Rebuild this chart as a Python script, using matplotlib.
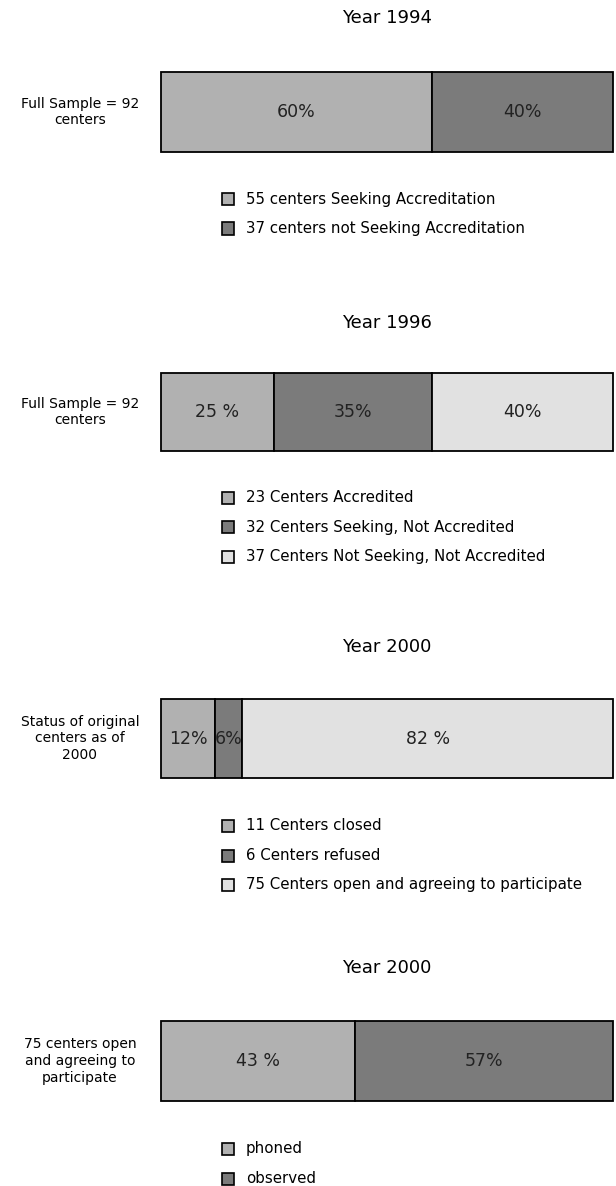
import matplotlib.pyplot as plt
from matplotlib.patches import Rectangle

plt.rcParams['font.family'] = ['DejaVu Sans']

# --- data ---
titles = ["Year 1994", "Year 1996", "Year 2000", "Year 2000"]
row_labels = [
    "Full Sample = 92\ncenters",
    "Full Sample = 92\ncenters",
    "Status of original\ncenters as of\n2000",
    "75 centers open\nand agreeing to\nparticipate",
]
shares_1994 = [60, 40]
shares_1996 = [25, 35, 40]
shares_2000a = [12, 6, 82]
shares_2000b = [43, 57]
text_1994 = ["60%", "40%"]
text_1996 = ["25 %", "35%", "40%"]
text_2000a = ["12%", "6%", "82 %"]
text_2000b = ["43 %", "57%"]
legend_1994 = ["55 centers Seeking Accreditation", "37 centers not Seeking Accreditation"]
legend_1996 = ["23 Centers Accredited", "32 Centers Seeking, Not Accredited",
               "37 Centers Not Seeking, Not Accredited"]
legend_2000a = ["11 Centers closed", "6 Centers refused",
                "75 Centers open and agreeing to participate"]
legend_2000b = ["phoned", "observed"]

panels = [
    (shares_1994, text_1994, legend_1994),
    (shares_1996, text_1996, legend_1996),
    (shares_2000a, text_2000a, legend_2000a),
    (shares_2000b, text_2000b, legend_2000b),
]
colors = ["#b1b1b1", "#7b7b7b", "#e1e1e1"]

W, H = 616, 1186
fig = plt.figure(figsize=(W / 100, H / 100), dpi=100)

bar_top = [72, 373, 699, 1021]
bar_bot = [152, 451, 778, 1101]
title_y = [18, 323, 647, 968]
leg_y = [199, 498, 826, 1149]
x0, x1 = 161, 613

for i, (vals, labels, legs) in enumerate(panels):
    ax = fig.add_axes([x0 / W, 1 - bar_bot[i] / H, (x1 - x0) / W,
                       (bar_bot[i] - bar_top[i]) / H])
    left = 0
    for v, lab, c in zip(vals, labels, colors):
        ax.barh(0, v, left=left, height=1, color=c, edgecolor="black",
                linewidth=1.3, clip_on=False)
        ax.text(left + v / 2, 0, lab, ha="center", va="center", fontsize=12.5,
                color="#222222")
        left += v
    ax.set_xlim(0, sum(vals))
    ax.set_ylim(-0.5, 0.5)
    ax.axis("off")

    fig.text((x0 + x1) / 2 / W, 1 - title_y[i] / H, titles[i], ha="center",
             va="center", fontsize=13)
    fig.text(80 / W, 1 - (bar_top[i] + bar_bot[i]) / 2 / H, row_labels[i],
             ha="center", va="center", fontsize=10, linespacing=1.25)

    for j, (lg, c) in enumerate(zip(legs, colors)):
        yc = leg_y[i] + 29.5 * j
        fig.patches.append(Rectangle((222 / W, 1 - (yc + 6) / H), 12 / W, 12 / H,
                                     transform=fig.transFigure, facecolor=c,
                                     edgecolor="black", linewidth=1.2))
        fig.text(246 / W, 1 - yc / H, lg, ha="left", va="center", fontsize=10.8)

fig.savefig("out.png", dpi=100, facecolor="white")
